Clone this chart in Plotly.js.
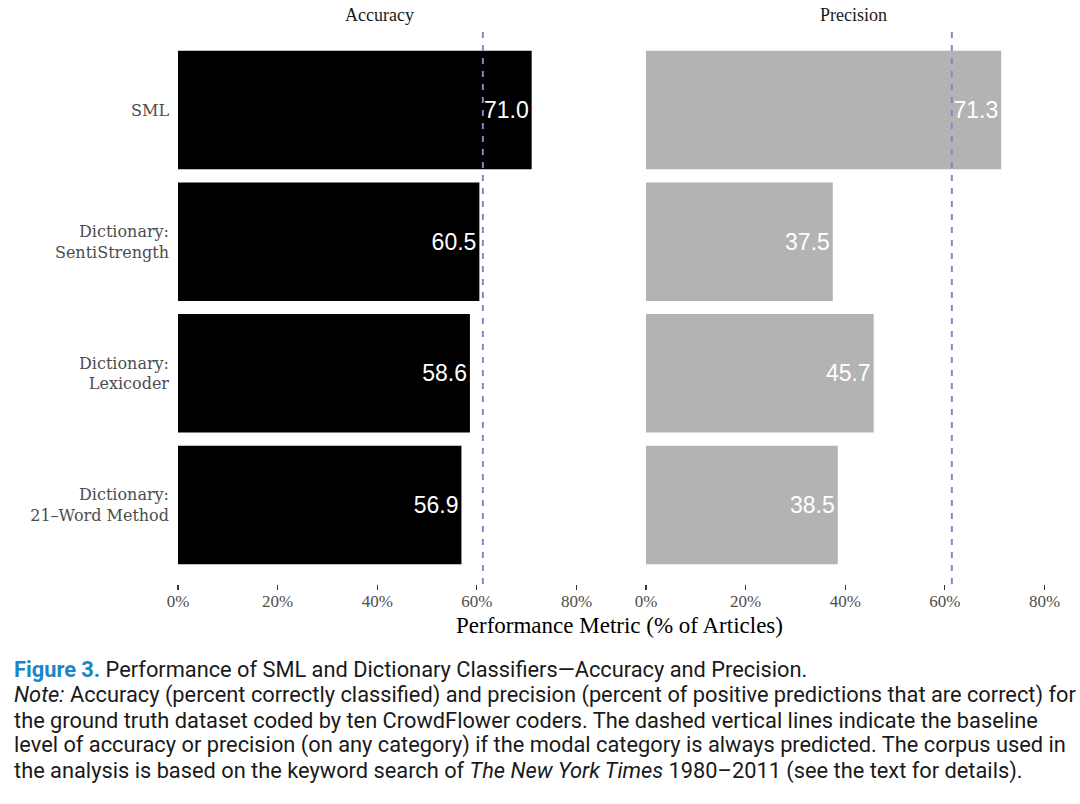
<!DOCTYPE html>
<html>
<head>
<meta charset="utf-8">
<script src="https://cdn.plot.ly/plotly-3.0.1.min.js"></script>
<style>
html,body{margin:0;padding:0;background:#fff;}
#chart{width:1080px;height:804px;}
</style>
</head>
<body>
<div id="chart"></div>
<script>
// ---- data ----
const categories = ["SML", "Dictionary:<br>SentiStrength", "Dictionary:<br>Lexicoder", "Dictionary:<br>21\u2013Word Method"];
const accuracy = [71.0, 60.5, 58.6, 56.9];
const precision = [71.3, 37.5, 45.7, 38.5];
const baselineAccuracy = 61.2;
const baselinePrecision = 61.4;
const tickValues = [0, 20, 40, 60, 80];
const tickLabels = ["0%", "20%", "40%", "60%", "80%"];
const panelTitles = ["Accuracy", "Precision"];

const W = 1080, H = 804;
const px = v => v / W;
const py = v => 1 - v / H;

const labelFont = {family: "Liberation Sans, Arial, sans-serif", size: 23, color: "#ffffff"};

const traces = [
  {
    type: "bar", orientation: "h",
    x: accuracy, y: categories,
    xaxis: "x", yaxis: "y",
    marker: {color: "#000000"},
    width: 0.9,
    text: accuracy.map(v => v.toFixed(1)),
    textposition: "inside", insidetextanchor: "end",
    textfont: labelFont, textangle: 0,
    hoverinfo: "none", showlegend: false, cliponaxis: false
  },
  {
    type: "bar", orientation: "h",
    x: precision, y: categories,
    xaxis: "x2", yaxis: "y2",
    marker: {color: "#b3b3b3"},
    width: 0.9,
    text: precision.map(v => v.toFixed(1)),
    textposition: "inside", insidetextanchor: "end",
    textfont: labelFont, textangle: 0,
    hoverinfo: "none", showlegend: false, cliponaxis: false
  }
];

const xCommon = {
  range: [0, 80.3],
  tickvals: tickValues,
  ticktext: tickLabels,
  ticks: "outside", ticklen: 5, tickwidth: 1.2, tickcolor: "#333333",
  tickfont: {family: "Liberation Serif, Times New Roman, serif", size: 17, color: "#4d4d4d"},
  ticklabelstandoff: -3,
  showgrid: false, zeroline: false, showline: false,
  anchor: "free", fixedrange: true
};
const yDomain = [py(584), py(31)];

const layout = {
  width: W, height: H,
  margin: {l: 0, r: 0, t: 0, b: 0},
  paper_bgcolor: "#ffffff", plot_bgcolor: "#ffffff",
  bargap: 0.1,
  xaxis: Object.assign({}, xCommon, {domain: [px(178), px(578)], position: yDomain[0]}),
  xaxis2: Object.assign({}, xCommon, {domain: [px(646), px(1046)], position: yDomain[0]}),
  yaxis: {
    domain: yDomain, type: "category", categoryarray: categories, categoryorder: "array",
    range: [3.6, -0.6], anchor: "x",
    tickfont: {family: "DejaVu Serif, serif", size: 16, color: "#4d4d4d"},
    ticks: "", ticklen: 0, showgrid: false, zeroline: false, showline: false,
    ticklabelstandoff: 8, fixedrange: true
  },
  yaxis2: {
    domain: yDomain, type: "category", categoryarray: categories, categoryorder: "array",
    range: [3.6, -0.6], anchor: "x2",
    showticklabels: false, ticks: "", showgrid: false, zeroline: false, showline: false,
    fixedrange: true
  },
  shapes: [
    {type: "line", xref: "x", yref: "paper", x0: baselineAccuracy, x1: baselineAccuracy,
     y0: yDomain[0], y1: yDomain[1], line: {color: "#8a85c0", width: 2, dash: "6px,7px"}},
    {type: "line", xref: "x2", yref: "paper", x0: baselinePrecision, x1: baselinePrecision,
     y0: yDomain[0], y1: yDomain[1], line: {color: "#8a85c0", width: 2, dash: "6px,7px"}}
  ],
  annotations: [
    {text: panelTitles[0], xref: "paper", yref: "paper", x: px(379), y: py(15),
     xanchor: "center", yanchor: "middle", showarrow: false,
     font: {family: "Liberation Serif, serif", size: 18, color: "#1a1a1a"}},
    {text: panelTitles[1], xref: "paper", yref: "paper", x: px(853), y: py(15),
     xanchor: "center", yanchor: "middle", showarrow: false,
     font: {family: "Liberation Serif, serif", size: 18, color: "#1a1a1a"}},
    {text: "Performance Metric (% of Articles)", xref: "paper", yref: "paper", x: px(619), y: py(625),
     xanchor: "center", yanchor: "middle", showarrow: false,
     font: {family: "Liberation Serif, serif", size: 23, color: "#000000"}}
  ]
};

const capFont = {family: "Roboto, sans-serif", size: 21.8, color: "#1a1a1a"};
const capLines = [
  "<b><span style='color:#1a86c6'>Figure 3.</span></b> Performance of SML and Dictionary Classifiers\u2014Accuracy and Precision.",
  "<i>Note:</i> Accuracy (percent correctly classified) and precision (percent of positive predictions that are correct) for",
  "the ground truth dataset coded by ten CrowdFlower coders. The dashed vertical lines indicate the baseline",
  "level of accuracy or precision (on any category) if the modal category is always predicted. The corpus used in",
  "the analysis is based on the keyword search of <i>The New York Times</i> 1980\u20132011 (see the text for details)."
];
const capY = [669, 695, 720, 745, 771];
capLines.forEach((t, i) => {
  layout.annotations.push({
    text: t, xref: "paper", yref: "paper", x: px(12), y: py(capY[i]),
    xanchor: "left", yanchor: "middle", showarrow: false, align: "left", font: capFont
  });
});

Plotly.newPlot("chart", traces, layout, {displayModeBar: false, staticPlot: true});
</script>
</body>
</html>
